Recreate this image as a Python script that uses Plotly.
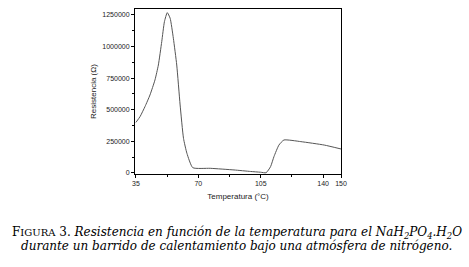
import plotly.graph_objects as go

temperatura = [35, 37.3, 40.1, 42.9, 45.7, 47.6, 49.5, 51.0, 52.6, 54.2, 56.0, 57.9, 59.8, 61.7, 63.6, 66.9, 76.7, 90, 99.3, 104.9, 108.0, 110.5, 112.4, 115.2, 118.0, 127.5, 140.6, 150]
resistencia = [400000, 445000, 525000, 617000, 736000, 854000, 1039000, 1197000, 1268000, 1224000, 1066000, 854000, 538000, 274000, 156000, 42000, 37000, 24000, 12000, 6000, 2000, 50000, 129000, 221000, 261000, 248000, 221000, 190000]

x_ticks = [35, 70, 105, 140, 150]
x_minor = [52.5, 87.5, 122.5]
y_ticks = [0, 250000, 500000, 750000, 1000000, 1250000]
y_minor = [125000, 375000, 625000, 875000, 1125000]

fig = go.Figure()
fig.add_trace(go.Scatter(x=temperatura, y=resistencia, mode="lines",
                         line=dict(color="#555555", width=1, shape="spline", smoothing=0.5),
                         showlegend=False, hoverinfo="skip"))

axis_font = dict(family="Liberation Sans, Arial", size=7, color="#222222")
title_font = dict(family="Liberation Sans, Arial", size=8, color="#222222")
fig.update_layout(
    width=469, height=267,
    margin=dict(l=135, r=128, t=9, b=93),
    paper_bgcolor="white", plot_bgcolor="white",
    xaxis=dict(range=[34.5, 150], tickvals=x_ticks, ticktext=[str(v) for v in x_ticks],
               ticks="outside", ticklen=3, tickwidth=1, tickcolor="black",
               minor=dict(tickvals=x_minor, ticks="outside", ticklen=2, tickcolor="black"),
               showline=True, linecolor="black", linewidth=1, mirror=True,
               showgrid=False, zeroline=False, tickfont=axis_font, automargin=False,
               title=dict(text="Temperatura (°C)", font=title_font, standoff=6)),
    yaxis=dict(range=[-8000, 1297000], tickvals=y_ticks, ticktext=[str(v) for v in y_ticks],
               ticks="outside", ticklen=3, tickwidth=1, tickcolor="black",
               minor=dict(tickvals=y_minor, ticks="outside", ticklen=2, tickcolor="black"),
               showline=True, linecolor="black", linewidth=1, mirror=True,
               showgrid=False, zeroline=False, tickfont=axis_font, automargin=False,
               title=dict(text="Resistencia (Ω)", font=title_font, standoff=4)),
)

caption1 = ("F<span style='font-size:10px'>IGURA</span> 3. <i>Resistencia en función de la temperatura para el "
            "NaH<sub>2</sub>PO<sub>4</sub>.H<sub>2</sub>O</i>")
caption2 = "<i>durante un barrido de calentamiento bajo una atmósfera de nitrógeno.</i>"
cap_font = dict(family="DejaVu Serif", size=12, color="black")
plot_h = 267 - 9 - 93
plot_w = 469 - 135 - 128
for txt, py in [(caption1, 233), (caption2, 246)]:
    fig.add_annotation(text=txt, x=(236.5 - 135) / plot_w, y=(267 - 93 - py) / plot_h,
                       xref="paper", yref="paper", showarrow=False, font=cap_font,
                       xanchor="center", yanchor="middle")

fig.write_html("out.html", config={"displayModeBar": False, "staticPlot": True},
               post_script="document.body.style.margin='0';document.body.style.overflow='hidden';")
